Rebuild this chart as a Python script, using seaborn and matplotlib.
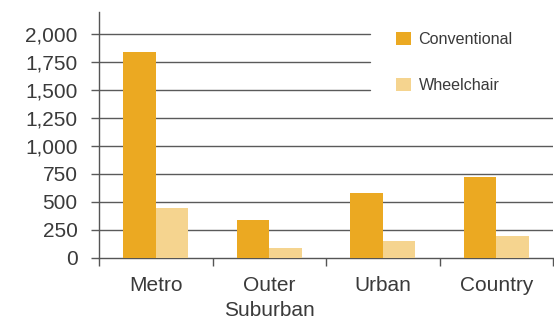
import matplotlib
matplotlib.use("Agg")
import matplotlib.pyplot as plt
import seaborn as sns
import pandas as pd
import numpy as np

categories = ["Metro", "Outer\nSuburban", "Urban", "Country"]
conventional = [1840, 333, 580, 720]
wheelchair = [440, 82, 148, 192]
series_names = ["Conventional", "Wheelchair"]
y_ticks = [0, 250, 500, 750, 1000, 1250, 1500, 1750, 2000]

df = pd.DataFrame({
    "Region": categories * 2,
    "Type": [series_names[0]] * len(categories) + [series_names[1]] * len(categories),
    "Count": conventional + wheelchair,
})

sns.set_style("white")
plt.rcParams['font.family'] = ['Liberation Sans', 'DejaVu Sans']

fig = plt.figure(figsize=(5.54, 3.2), dpi=100)
ax = fig.add_axes([99/554, 1 - 257.5/320, (553 - 99)/554, (257.5 - 12)/320])

palette = {"Conventional": "#EBA922", "Wheelchair": "#F5D48F"}
sns.barplot(data=df, x="Region", y="Count", hue="Type", palette=palette,
            width=0.57, linewidth=0, saturation=1, ax=ax, zorder=3)

ax.set_xlim(-0.5, 3.5)
ax.set_ylim(0, 2200)
ax.set_yticks(y_ticks)
ax.set_yticklabels([f"{v:,}" for v in y_ticks])
ax.set_xlabel("")
ax.set_ylabel("")

# gridlines (broken under the legend for the top three)
for v in y_ticks[1:]:
    xmax = 0.597 if v >= 1500 else 1.0
    ax.axhline(v, xmin=0, xmax=xmax, color="#5a5a5a", linewidth=1.0, zorder=1)

for s in ["top", "right"]:
    ax.spines[s].set_visible(False)
for s in ["left", "bottom"]:
    ax.spines[s].set_color("#555555")
    ax.spines[s].set_linewidth(1.0)

ax.tick_params(axis="y", which="major", left=True, length=6, width=1.0,
               color="#5a5a5a", pad=9.5, labelsize=15, labelcolor="#3a3a3a")
ax.tick_params(axis="x", which="major", bottom=False, pad=9.5,
               labelsize=15, labelcolor="#3a3a3a")
ax.set_xticks(np.arange(-0.5, 4.0, 1.0), minor=True)
ax.tick_params(axis="x", which="minor", bottom=True, length=6, width=1.0,
               color="#555555")
for lbl in ax.get_xticklabels():
    lbl.set_linespacing(1.45)

handles, labels = ax.get_legend_handles_labels()
ax.legend(handles, labels, loc="upper left",
          bbox_to_anchor=(396/554, 1 - 32/320), bbox_transform=fig.transFigure,
          frameon=False, fontsize=11.6, handlelength=0.9, handleheight=0.9,
          handletextpad=0.5, labelspacing=1.9, borderpad=0, borderaxespad=0,
          labelcolor="#3a3a3a")

fig.savefig("out.png", dpi=100)
